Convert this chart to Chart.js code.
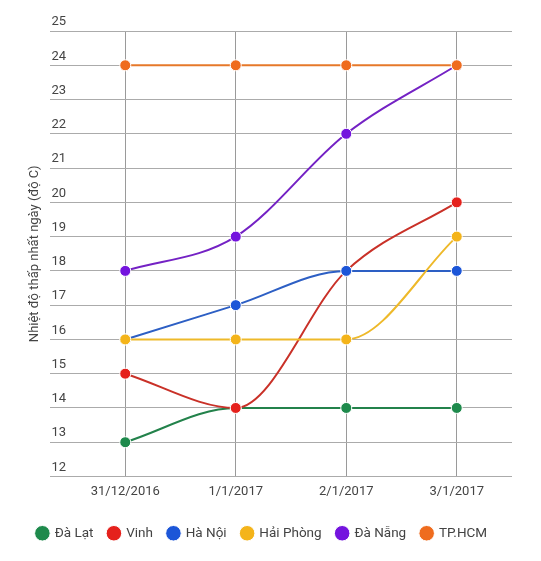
<!DOCTYPE html>
<html lang="vi">
<head>
<meta charset="UTF-8">
<title>Nhiệt độ thấp nhất ngày</title>
<style>
  html, body { margin: 0; padding: 0; background: #fff; }
  #wrap { width: 541px; height: 561px; }
</style>
<script src="https://cdn.jsdelivr.net/npm/chart.js"></script>
</head>
<body>
<div id="wrap"><canvas id="chart" width="541" height="561"></canvas></div>
<script>
// dữ liệu
const days = ['31/12/2016', '1/1/2017', '2/1/2017', '3/1/2017'];
const cities = ['Đà Lạt', 'Vinh', 'Hà Nội', 'Hải Phòng', 'Đà Nẵng', 'TP.HCM'];
const daLat    = [13, 14, 14, 14];
const vinh     = [15, 14, 18, 20];
const haNoi    = [16, 17, 18, 18];
const haiPhong = [16, 16, 16, 19];
const daNang   = [18, 19, 22, 24];
const tpHcm    = [24, 24, 24, 24];
const yTicks = [12, 13, 14, 15, 16, 17, 18, 19, 20, 21, 22, 23, 24, 25];

const series = [daLat, vinh, haNoi, haiPhong, daNang, tpHcm];
const pointColors = ['#1e8a4c', '#e5211c', '#1c56d8', '#f4b41a', '#7414de', '#ef6c1e'];
const lineColors  = ['#23824b', '#c93128', '#2d5fc4', '#eeb92a', '#7422c4', '#e6782a'];

const datasets = series.map((vals, i) => ({
  label: cities[i],
  data: vals,
  borderColor: lineColors[i],
  backgroundColor: pointColors[i],
  pointBackgroundColor: pointColors[i],
  pointBorderColor: '#ffffff',
  pointBorderWidth: 1,
  pointRadius: 5.5,
  borderWidth: 2,
  cubicInterpolationMode: 'monotone',
  fill: false,
  order: series.length - i   // dãy sau vẽ đè lên dãy trước
}));

new Chart(document.getElementById('chart'), {
  type: 'line',
  data: { labels: days, datasets: datasets },
  options: {
    responsive: false,
    animation: false,
    events: [],
    layout: { padding: { top: 31, right: 29, bottom: 11, left: 12 } },
    scales: {
      x: {
        offset: true,
        grid: { offset: false, color: '#9a9a9a', drawTicks: false, tickLength: 0 },
        border: { display: false },
        ticks: { color: '#444', padding: 7, font: { family: 'Roboto', size: 13 } },
        afterFit: s => { s.height = 35; }
      },
      y: {
        min: 12,
        max: 25,
        afterBuildTicks: s => { s.ticks = yTicks.map(v => ({ value: v })); },
        grid: { color: '#ababab', tickLength: 20 },
        border: { display: false },
        ticks: { color: '#444', padding: -16, labelOffset: -9, font: { family: 'Roboto', size: 13 } },
        title: {
          display: true,
          text: 'Nhiệt độ thấp nhất ngày (độ C)',
          color: '#444',
          padding: { top: 15, bottom: 0 },
          font: { family: 'Roboto', size: 13 }
        },
        afterFit: s => { s.width = 58; }
      }
    },
    plugins: {
      tooltip: { enabled: false },
      legend: {
        position: 'bottom',
        labels: {
          usePointStyle: true,
          pointStyle: 'circle',
          boxWidth: 11,
          boxHeight: 11,
          padding: 15,
          color: '#444',
          font: { family: 'Roboto', size: 13.5 },
          sort: (a, b) => a.datasetIndex - b.datasetIndex
        }
      }
    }
  }
});
</script>
</body>
</html>
